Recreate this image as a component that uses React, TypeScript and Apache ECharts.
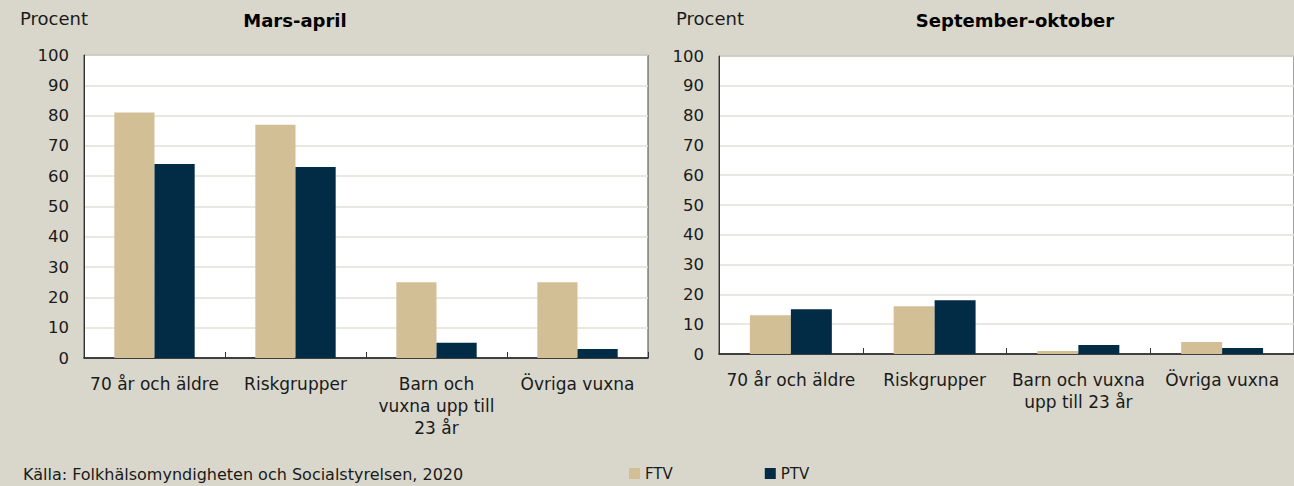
import React, { useEffect, useRef } from "react";
import * as echarts from "echarts";

const categoriesLeft = ["70 år och äldre", "Riskgrupper", "Barn och\nvuxna upp till\n23 år", "Övriga vuxna"];
const categoriesRight = ["70 år och äldre", "Riskgrupper", "Barn och vuxna\nupp till 23 år", "Övriga vuxna"];
const ftvMarsApril = [81, 77, 25, 25];
const ptvMarsApril = [64, 63, 5, 3];
const ftvSepOkt = [13, 16, 1, 4];
const ptvSepOkt = [15, 18, 3, 2];
const seriesNames = ["FTV", "PTV"];
const titles = ["Mars-april", "September-oktober"];
const yLabel = "Procent";
const sourceText = "Källa: Folkhälsomyndigheten och Socialstyrelsen, 2020";

const FONT = "'DejaVu Sans', sans-serif";
const TAN = "#D3BF96";
const NAVY = "#022B45";
const BG = "#D9D7CB";
const TXT = "#1A1A1A";

export default function App() {
  const ref = useRef<HTMLDivElement>(null);
  useEffect(() => {
    if (!ref.current) return;
    const chart = echarts.init(ref.current, null, { renderer: "svg" });
    const yAxisCommon = (gridIndex: number) => ({
      type: "value",
      gridIndex,
      min: 0,
      max: 100,
      interval: 10,
      axisLine: { show: true, lineStyle: { color: "#333", width: 1 } },
      axisTick: { show: false },
      axisLabel: { color: TXT, fontSize: 16.5, fontFamily: FONT, margin: 15 },
      splitLine: { show: true, lineStyle: { color: "#E2E0D6", width: 1.5 } },
    });
    const xAxisCommon = (gridIndex: number, data: string[]) => ({
      type: "category",
      gridIndex,
      data,
      axisLine: { show: true, lineStyle: { color: "#111", width: 1.5 } },
      axisTick: { show: true, inside: true, length: 6, lineStyle: { color: "#333" } },
      axisLabel: {
        color: TXT,
        fontSize: 17,
        fontFamily: FONT,
        margin: 15,
        lineHeight: 22,
        interval: 0,
      },
    });
    const bar = (name: string, data: number[], color: string, idx: number) => ({
      name,
      type: "bar",
      xAxisIndex: idx,
      yAxisIndex: idx,
      data,
      barGap: "0%",
      barCategoryGap: "43%",
      itemStyle: { color },
    });
    chart.setOption({
      animation: false,
      backgroundColor: BG,
      textStyle: { fontFamily: FONT },
      grid: [
        { left: 84, top: 55, width: 564, height: 303, show: true, backgroundColor: "#fff", borderColor: "#444", borderWidth: 1 },
        { left: 719, top: 56, width: 584, height: 298, show: true, backgroundColor: "#fff", borderColor: "#444", borderWidth: 1 },
      ],
      xAxis: [xAxisCommon(0, categoriesLeft), xAxisCommon(1, categoriesRight)],
      yAxis: [yAxisCommon(0), yAxisCommon(1)],
      legend: {
        data: seriesNames,
        left: 629,
        top: 466,
        padding: 0,
        itemWidth: 11,
        itemHeight: 11,
        itemGap: 92,
        icon: "rect",
        textStyle: { color: TXT, fontSize: 15, fontFamily: FONT },
      },
      graphic: [
        { type: "text", left: 20, top: 9, style: { text: yLabel, fill: TXT, fontSize: 18, fontFamily: FONT } },
        { type: "text", left: 676, top: 9, style: { text: yLabel, fill: TXT, fontSize: 18, fontFamily: FONT } },
        { type: "text", x: 295, y: 20, style: { text: titles[0], fill: "#000", fontSize: 18, fontWeight: "bold", fontFamily: FONT, align: "center", verticalAlign: "middle" } },
        { type: "text", x: 1015, y: 20, style: { text: titles[1], fill: "#000", fontSize: 18, fontWeight: "bold", fontFamily: FONT, align: "center", verticalAlign: "middle" } },
        { type: "text", left: 23, top: 466, style: { text: sourceText, fill: TXT, fontSize: 16, fontFamily: FONT } },
      ],
      series: [
        bar(seriesNames[0], ftvMarsApril, TAN, 0),
        bar(seriesNames[1], ptvMarsApril, NAVY, 0),
        bar(seriesNames[0], ftvSepOkt, TAN, 1),
        bar(seriesNames[1], ptvSepOkt, NAVY, 1),
      ],
    });
    return () => chart.dispose();
  }, []);
  return (
    <div style={{ position: "fixed", left: 0, top: 0, width: 1294, height: 486, overflow: "hidden" }}>
      <div ref={ref} style={{ width: 1294, height: 486 }} />
    </div>
  );
}
